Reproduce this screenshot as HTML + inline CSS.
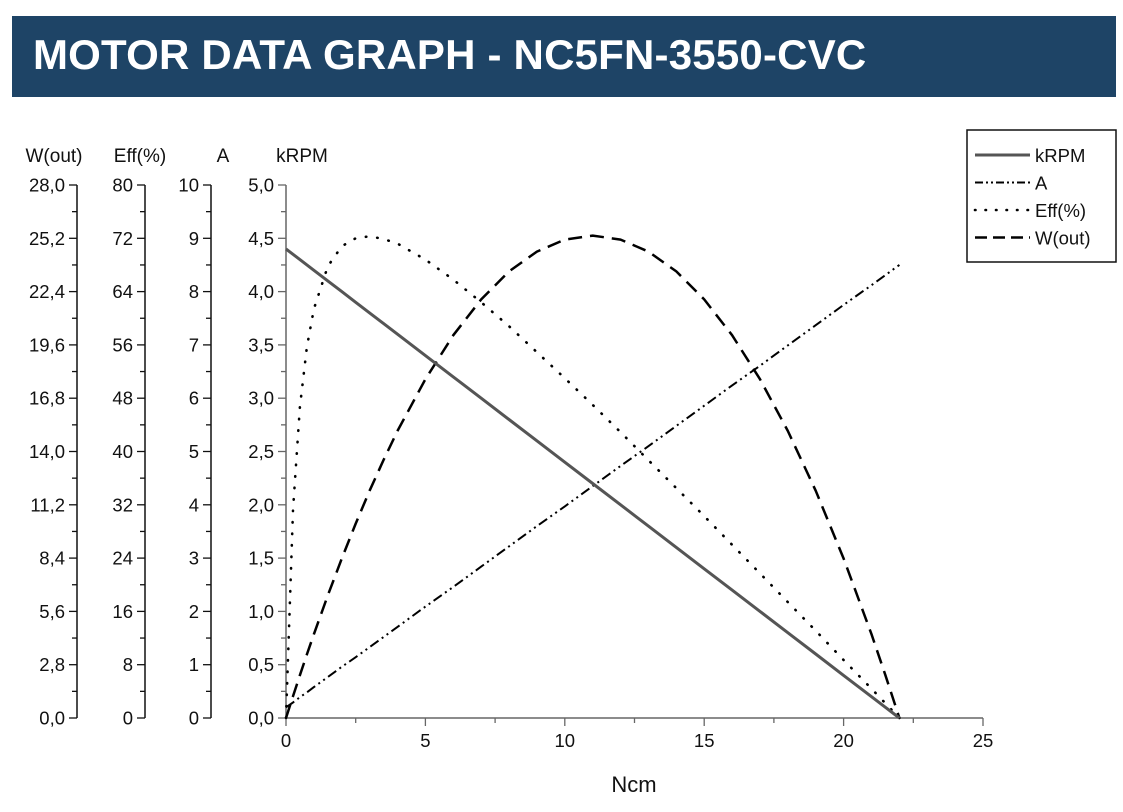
<!DOCTYPE html>
<html><head><meta charset="utf-8"><style>
body{margin:0;background:#fff;width:1123px;height:812px;overflow:hidden;font-family:"Liberation Sans",Arial,sans-serif}
#hdr{position:absolute;left:12px;top:16px;width:1104px;height:81px;background:#1e4466}
#hdr span{position:absolute;left:21px;top:15px;color:#fff;font-weight:bold;font-size:42px;letter-spacing:0.2px}
svg{position:absolute;left:0;top:0;font-family:"Liberation Sans",Arial,sans-serif}
</style></head><body>
<div id="hdr"><span>MOTOR DATA GRAPH - NC5FN-3550-CVC</span></div>
<svg id="c" width="1123" height="812"></svg>
<script>
const torque=[0,0.25,0.5,0.75,1,1.5,2,2.5,3,3.5,4,5,6,7,8,9,10,11,12,13,14,15,16,17,18,19,20,21,21.5,22];
const speed=[4.4,4.35,4.3,4.25,4.2,4.1,4.0,3.9,3.8,3.7,3.6,3.4,3.2,3.0,2.8,2.6,2.4,2.2,2.0,1.8,1.6,1.4,1.2,1.0,0.8,0.6,0.4,0.2,0.1,0];
const current=[0.2,0.29,0.39,0.48,0.58,0.77,0.96,1.14,1.33,1.52,1.71,2.09,2.46,2.84,3.22,3.6,3.97,4.35,4.73,5.1,5.48,5.86,6.24,6.61,6.99,7.37,7.75,8.12,8.31,8.5];
const eff=[0,31.2,46.7,55.7,61.4,67.8,70.8,72.0,72.3,71.9,71.2,68.8,65.8,62.4,58.8,54.9,51.0,47.0,42.9,38.7,34.5,30.3,26.0,21.7,17.4,13.1,8.7,4.4,2.2,0];
const wout=[0,1.14,2.25,3.34,4.40,6.44,8.38,10.21,11.94,13.56,15.08,17.80,20.11,21.99,23.46,24.50,25.13,25.34,25.13,24.50,23.46,21.99,20.11,17.80,15.08,11.94,8.38,4.40,2.25,0];
const xTicks=[0,5,10,15,20,25];
const rpmTicks=["0,0","0,5","1,0","1,5","2,0","2,5","3,0","3,5","4,0","4,5","5,0"];
const aTicks=["0","1","2","3","4","5","6","7","8","9","10"];
const effTicks=["0","8","16","24","32","40","48","56","64","72","80"];
const wTicks=["0,0","2,8","5,6","8,4","11,2","14,0","16,8","19,6","22,4","25,2","28,0"];
const NS="http://www.w3.org/2000/svg",svg=document.getElementById('c');
const X0=286,X1=983,Y0=718,Y1=185;
const sx=v=>X0+v/25*(X1-X0);
const sy=(v,max)=>Y0-v/max*(Y0-Y1);
function mk(t,a){const e=document.createElementNS(NS,t);for(const k in a)e.setAttribute(k,a[k]);svg.appendChild(e);return e;}
function txt(x,y,s,anchor,size){const e=mk('text',{x:x,y:y,'text-anchor':anchor,'font-size':size||18.5,fill:'#111'});e.textContent=s;return e;}
const axes=[{x:77,lab:wTicks,title:"W(out)",tx:54,col:'#111'},{x:145,lab:effTicks,title:"Eff(%)",tx:140,col:'#111'},{x:211,lab:aTicks,title:"A",tx:223,col:'#111'},{x:286,lab:rpmTicks,title:"kRPM",tx:302,col:'#666'}];
axes.forEach((a,ai)=>{
 const l=mk('line',{x1:a.x,y1:Y1,x2:a.x,y2:Y0,stroke:a.col,'stroke-width':1.5});
 
 
 for(let i=0;i<=20;i++){const y=Y0-i/20*(Y0-Y1);mk('line',{x1:a.x-(i%2?5:8),y1:y,x2:a.x,y2:y,stroke:a.col,'stroke-width':1.3});}
 a.lab.forEach((s,i)=>{const t=txt(a.x-12,Y0-i/10*(Y0-Y1)+6.5,s,'end');
 
 });
 const tt=txt(a.tx,162,a.title,'middle',19);
 
 
});
const xa=mk('line',{x1:X0,y1:Y0,x2:X1,y2:Y0,stroke:'#666','stroke-width':1.5});


for(let v=0;v<=25;v+=2.5){mk('line',{x1:sx(v),y1:Y0,x2:sx(v),y2:Y0+(v%5?5:8),stroke:'#666','stroke-width':1.3});}
xTicks.forEach(v=>{const t=txt(sx(v),Y0+29,String(v),'middle');

});
const xt=txt(634,792,"Ncm",'middle',22);


function series(vals,max,style,name){const d=vals.map((v,i)=>(i?'L':'M')+sx(torque[i]).toFixed(1)+','+sy(v,max).toFixed(1)).join('');
 const p=mk('path',Object.assign({d:d,fill:'none','stroke-linejoin':'round'},style));
 
 }
series(wout,28,{stroke:'#000','stroke-width':2.5,'stroke-dasharray':'14 8'},'line-wout');
series(eff,80,{stroke:'#000','stroke-width':2.6,'stroke-dasharray':'0.5 11','stroke-linecap':'round'},'line-eff');
series(current,10,{stroke:'#000','stroke-width':2,'stroke-dasharray':'10 4 2 4 2 4'},'line-current');
series(speed,5,{stroke:'#555','stroke-width':3},'line-krpm');
const lg=mk('rect',{x:967,y:130,width:149,height:132,fill:'#fff',stroke:'#111','stroke-width':1.5});


const leg=[["kRPM",{stroke:'#555','stroke-width':3}],["A",{stroke:'#000','stroke-width':2,'stroke-dasharray':'8 3 2 3 2 3'}],["Eff(%)",{stroke:'#000','stroke-width':2.6,'stroke-dasharray':'0.5 10','stroke-linecap':'round'}],["W(out)",{stroke:'#000','stroke-width':2.5,'stroke-dasharray':'12 6'}]];
leg.forEach((e,i)=>{const y=155+i*27.5;mk('line',Object.assign({x1:975,y1:y,x2:1030,y2:y},e[1]));
 const t=txt(1035,y+7,e[0],'start',18.5);
 
 });
</script>
</body></html>
